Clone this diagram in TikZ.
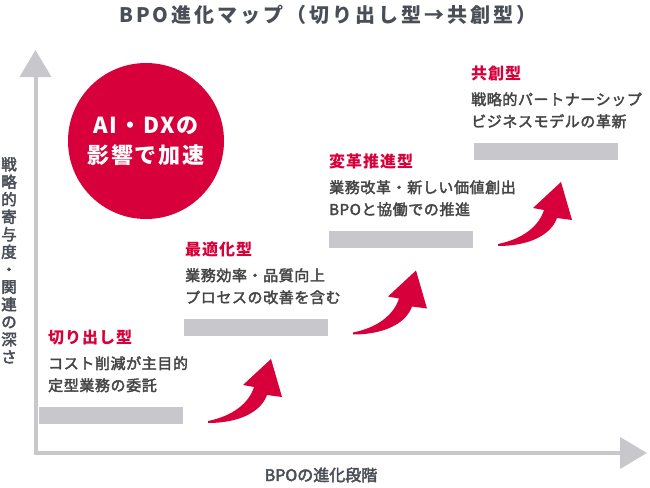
\documentclass[tikz,border=0pt]{standalone}
\usepackage{fontspec}
\setmainfont{Noto Sans CJK JP}
\usepackage{xcolor}
\usetikzlibrary{arrows.meta}

\begin{document}
\begin{tikzpicture}[x=1pt,y=-1pt,
  mybar/.style={fill=bargray,draw=none,inner sep=0,minimum width=144pt,minimum height=17pt,anchor=north west},
  mytitle/.style={anchor=base west,inner sep=0,text=accent,font=\fontsize{16}{16}\selectfont\bfseries\addfontfeatures{LetterSpace=6}},
  mytext/.style={anchor=base west,inner sep=0,text=bodygray,font=\fontsize{15}{15}\selectfont\addfontfeatures{LetterSpace=4,FakeBold=2.5}},
  myaxis/.style={draw=bargray,line width=4pt,{Triangle[width=31pt,length=27pt]}-{Triangle[width=31pt,length=27pt]}},
  mylabel/.style={inner sep=0,text=titlegray,font=\fontsize{15.5}{17.5}\selectfont\addfontfeatures{FakeBold=3}}]
\definecolor{accent}{HTML}{D7003A}
\definecolor{bargray}{HTML}{C8C8CC}
\definecolor{bodygray}{HTML}{454545}
\definecolor{titlegray}{HTML}{4A4F57}
\useasboundingbox (0,0) rectangle (650,487);
\node[anchor=base,inner sep=0,text=titlegray,font=\fontsize{20}{20}\selectfont\bfseries\addfontfeatures{LetterSpace=15}] (maptitle) at (328,23) {BPO進化マップ（切り出し型→共創型）};
% axes
\coordinate (origin) at (35.5,453);
\coordinate (ytop) at (35.5,50);
\coordinate (xend) at (647,453);
\draw[myaxis] (ytop) |- (xend);
\node[mylabel,anchor=north,align=center] (ylabel) at (9,157) {戦\\略\\的\\寄\\与\\度\\・\\関\\連\\の\\深\\さ};
\node[mylabel,anchor=base,font=\fontsize{16}{16}\selectfont\addfontfeatures{FakeBold=3}] (xlabel) at (321,481) {BPOの進化段階};
\node[circle,fill=accent,minimum size=156pt,inner sep=0,align=center,text=white,font=\fontsize{22}{30}\selectfont\bfseries\addfontfeatures{LetterSpace=8}] (dxcircle) at (146,141) {AI・DXの\\影響で加速};
% stages
\foreach \i/\tx/\name/\la/\lb in {0/48/切り出し型/コスト削減が主目的/定型業務の委託,1/185/最適化型/業務効率・品質向上/プロセスの改善を含む,2/329/変革推進型/業務改革・新しい価値創出/BPOと協働での推進,3/471/共創型/戦略的パートナーシップ/ビジネスモデルの革新}
{ \pgfmathsetmacro{\bartop}{407-88*\i}
  \pgfmathsetmacro{\barx}{39+145*\i}
  \node[mybar] (bar\i) at (\barx,\bartop) {};
  \node[mytitle] (title\i) at (\tx,\bartop-64) {\name};
  \node[mytext] (linea\i) at (\tx,\bartop-38) {\la};
  \node[mytext] (lineb\i) at (\tx,\bartop-16) {\lb};}
\foreach \i in {0,1,2}
{ \fill[accent,shift={(145*\i,-88.5*\i)}] (208,421) .. controls (233,416) and (249,403) .. (254,387) -- (243,385) -- (271,359) -- (282,397) -- (267,395) .. controls (261,412) and (239,423) .. (208,423) -- cycle;}
\end{tikzpicture}
\end{document}
